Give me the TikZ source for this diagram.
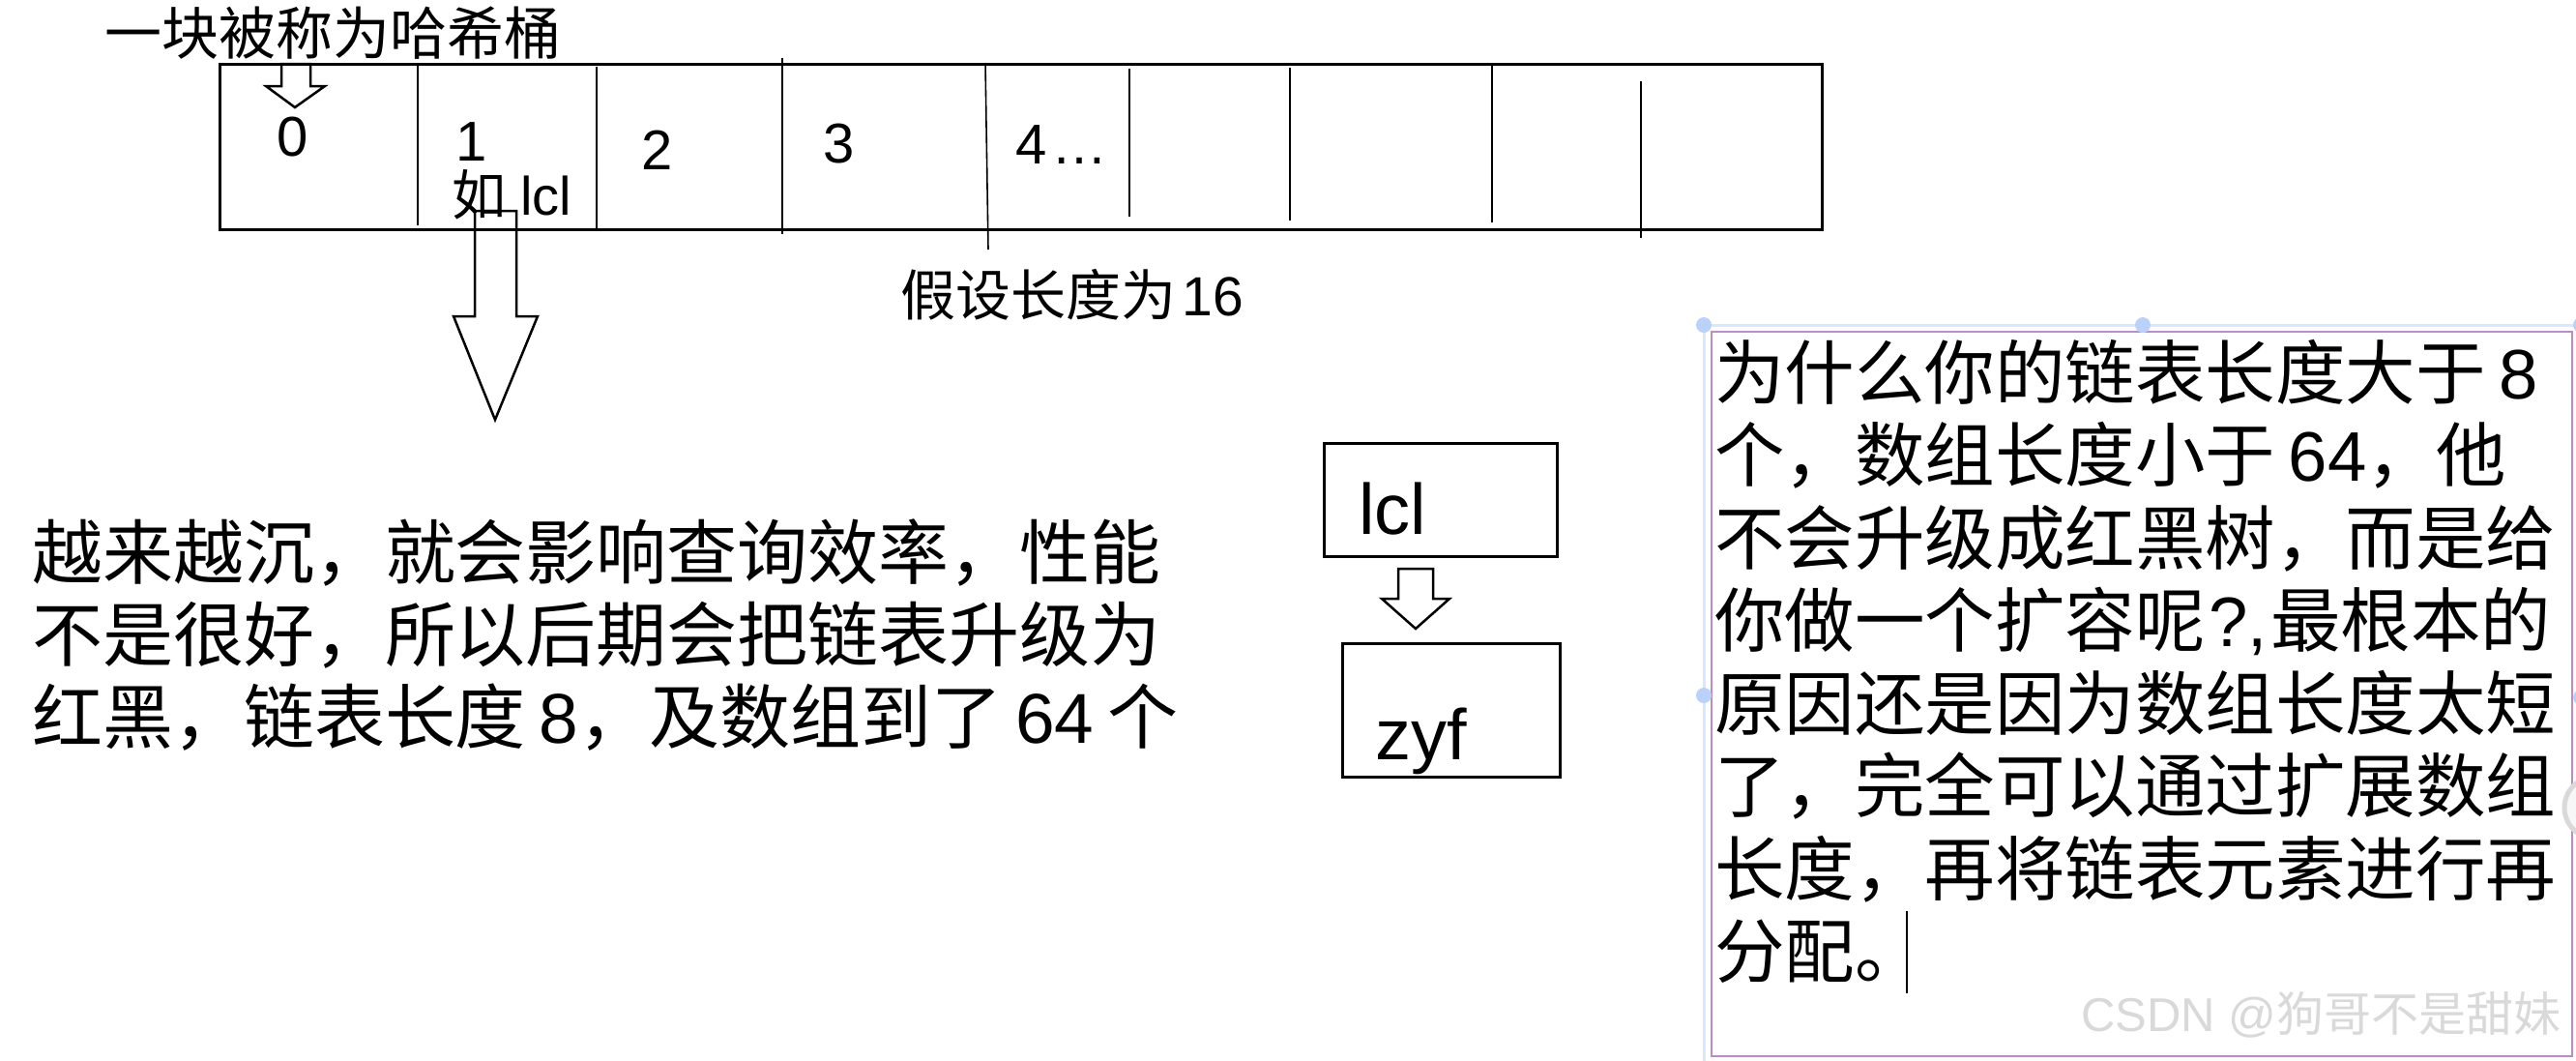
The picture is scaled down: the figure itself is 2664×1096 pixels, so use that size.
\documentclass[tikz,border=0pt]{standalone}
\usepackage{fontspec}
\setmainfont{Liberation Sans}
\newfontfamily\cjk{Noto Sans CJK SC}
\newcommand{\cjkgap}{\kern0.19em}
\definecolor{purp}{RGB}{188,140,198}
\definecolor{selblue}{RGB}{218,232,252}
\definecolor{handleblue}{RGB}{186,210,250}
\begin{document}
\begin{tikzpicture}[x=1pt,y=-1pt,
  txt/.style={anchor=base west,inner sep=0pt,outer sep=0pt},
  bigl/.style={txt,font=\fontsize{73}{86}\selectfont},
  bigr/.style={txt,font=\fontsize{72.5}{86}\selectfont},
  mid/.style={txt,font=\fontsize{58}{70}\selectfont},
  boxtxt/.style={txt,font=\fontsize{74}{88}\selectfont},
  divider/.style={line width=2pt},
  outline/.style={draw,line width=2.5pt,line join=miter},
  blockarrow/.style={draw,line width=2.5pt,line join=miter},
  handle/.style={fill=handleblue,draw=none}]
\useasboundingbox (0,0) rectangle (2664,1096);
\clip (0,0) rectangle (2664,1096);

% title
\node[txt,font=\fontsize{59}{70}\selectfont] (title) at (108,56) {\cjk 一块被称为哈希桶};

% table
\node[draw,line width=3pt,anchor=north west,inner sep=0pt,minimum width=1657pt,minimum height=171pt] (table) at (226,65) {};
\draw[divider] (432,68) -- (432,233);
\draw[divider] (617,69) -- (617,237);
\draw[divider] (809,60) -- (809,242);
\draw[line width=1.6pt] (1019,65) -- (1022,258);
\draw[divider] (1168,71) -- (1168,224);
\draw[divider] (1334,70) -- (1334,228);
\draw[line width=1.6pt] (1543,66) -- (1543,230);
\draw[line width=1.6pt] (1697,84) -- (1697,246);

% cell labels
\node[mid] (c0) at (286,161) {0};
\node[mid] (c1) at (471,166) {1};
\node[mid] (c2) at (663,175) {2};
\node[mid] (c3) at (851,168) {3};
\node[mid] (c4) at (1050,169) {4\kern5pt…};
\node[txt,font=\fontsize{56}{66}\selectfont] (ex) at (467,222) {{\cjk 如} lcl};

% small arrow into cell 0
\draw[blockarrow] (291,66) -- (321,66) -- (321,89) -- (336,89) -- (305,111) -- (275,89) -- (291,89) -- cycle;

% big arrow down from cell 1
\draw[blockarrow] (491,218) -- (534,218) -- (534,327) -- (556,327) -- (512,434) -- (469,327) -- (491,327) -- cycle;

% length note
\node[txt,font=\fontsize{57}{68}\selectfont] (len) at (931,326) {{\cjk 假设长度为}\kern0.12em 16};

% left paragraph
\node[bigl] (l1) at (33,598) {\cjk 越来越沉，就会影响查询效率，性能};
\node[bigl] (l2) at (33,683) {\cjk 不是很好，所以后期会把链表升级为};
\node[bigl] (l3) at (33,768) {{\cjk 红黑，链表长度}\cjkgap 8{\cjk ，及数组到了}\cjkgap 64\cjkgap{\cjk 个}};

% linked list boxes
\node[outline,anchor=north west,inner sep=0pt,minimum width=241pt,minimum height=117pt] (lclbox) at (1368,457) {};
\node[boxtxt] (lcl) at (1405,552) {lcl};
\draw[blockarrow] (1446,588) -- (1482,588) -- (1482,619) -- (1499,619) -- (1464,650) -- (1429,619) -- (1446,619) -- cycle;
\node[outline,anchor=north west,inner sep=0pt,minimum width=225pt,minimum height=138pt] (zyfbox) at (1387,664) {};
\node[boxtxt] (zyf) at (1422,785) {zyf};

% selection frame
\draw[selblue,line width=3pt] (1762,336) -- (2670,336);
\draw[selblue,line width=3pt] (1762,336) -- (1762,1100);
\draw[purp,line width=2pt] (1770,343) rectangle (2660,1092);
\fill[handle] (1762,336) circle[radius=8];
\fill[handle] (2216,336) circle[radius=8];
\fill[handle] (2669,336) circle[radius=8];
\fill[handle] (1762,719) circle[radius=8];
\fill[handle] (2669,721) circle[radius=8];

% right text
\node[bigr] (r1) at (1773,412) {{\cjk 为什么你的链表长度大于}\cjkgap 8};
\node[bigr] (r2) at (1773,497.5) {{\cjk 个，数组长度小于}\cjkgap 64{\cjk ，他}};
\node[bigr] (r3) at (1773,583) {\cjk 不会升级成红黑树，而是给};
\node[bigr] (r4) at (1773,668.5) {{\cjk 你做一个扩容呢}\kern0.05em ?,\kern0.05em{\cjk 最根本的}};
\node[bigr] (r5) at (1773,754) {\cjk 原因还是因为数组长度太短};
\node[bigr] (r6) at (1773,839.5) {\cjk 了，完全可以通过扩展数组};
\node[bigr] (r7) at (1773,925) {\cjk 长度，再将链表元素进行再};
\node[bigr] (r8) at (1773,1010.5) {\cjk 分配。};
\draw[line width=2pt] (1972,942) -- (1972,1027);

% scroll knob
\filldraw[fill=gray!6,draw=gray!30,line width=5pt] (2684,835) circle[radius=32];

% watermark
\node[txt,font=\fontsize{49}{60}\selectfont,text=gray!30] (wm) at (2152,1066) {CSDN @{\cjk 狗哥不是甜妹}};
\end{tikzpicture}
\end{document}
